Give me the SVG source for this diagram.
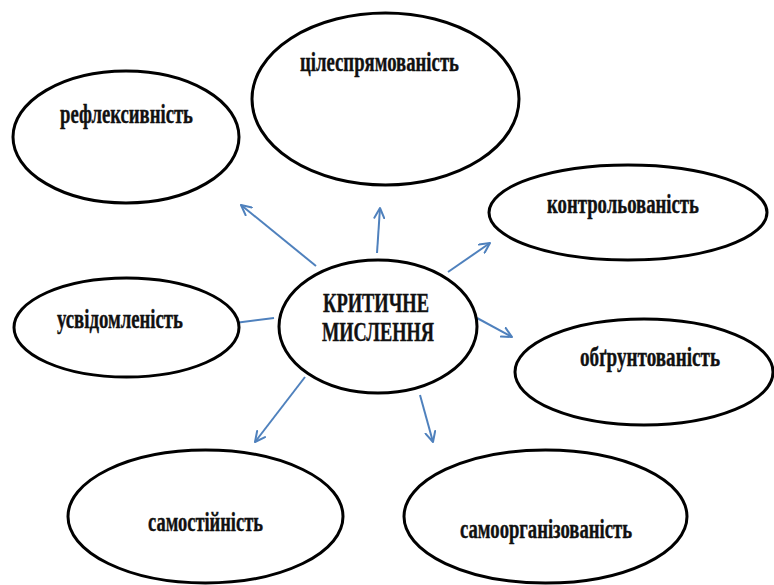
<svg xmlns="http://www.w3.org/2000/svg" width="774" height="585" viewBox="0 0 774 585">
  <defs>
    <style>
      .node ellipse { fill: #ffffff; stroke: #000000; stroke-width: 3; }
      .node text { font-family: "Liberation Serif", "DejaVu Serif", "Times New Roman", serif; font-weight: bold; font-size: 27px; fill: #111111; stroke: #111111; stroke-width: 0.4; }
      .conn line { stroke: #4F81BD; stroke-width: 2; }
    </style>
    <marker id="arrow" viewBox="0 0 12 12" refX="11" refY="6" markerWidth="12" markerHeight="12" markerUnits="userSpaceOnUse" orient="auto">
      <path d="M1,1 L11,6 L1,11" fill="none" stroke="#4F81BD" stroke-width="2" stroke-linecap="round" stroke-linejoin="round"/>
    </marker>
  </defs>
  <rect x="0" y="0" width="774" height="585" fill="#ffffff"/>

  <g id="connectors" class="conn">
    <line x1="316" y1="266" x2="241" y2="205" marker-end="url(#arrow)"/>
    <line x1="377" y1="253" x2="380" y2="208" marker-end="url(#arrow)"/>
    <line x1="448" y1="272" x2="490" y2="243" marker-end="url(#arrow)"/>
    <line x1="274" y1="318" x2="227" y2="324" marker-end="url(#arrow)"/>
    <line x1="477" y1="318" x2="512" y2="337" marker-end="url(#arrow)"/>
    <line x1="305" y1="377" x2="255" y2="442" marker-end="url(#arrow)"/>
    <line x1="420" y1="395" x2="433" y2="442" marker-end="url(#arrow)"/>
  </g>

  <g id="node-refleksyvnist" class="node">
    <ellipse cx="126" cy="137" rx="113" ry="66"/>
    <text x="60" y="123" textLength="133" lengthAdjust="spacingAndGlyphs">рефлексивність</text>
  </g>
  <g id="node-tsilespryamovanist" class="node">
    <ellipse cx="385.5" cy="99" rx="133.5" ry="86"/>
    <text x="300" y="71" textLength="159" lengthAdjust="spacingAndGlyphs">цілеспрямованість</text>
  </g>
  <g id="node-kontrolovanist" class="node">
    <ellipse cx="628" cy="212.5" rx="139" ry="47.5"/>
    <text x="547" y="213" textLength="152" lengthAdjust="spacingAndGlyphs">контрольованість</text>
  </g>
  <g id="node-obgruntovanist" class="node">
    <ellipse cx="644" cy="372" rx="129" ry="53"/>
    <text x="580" y="366" textLength="140" lengthAdjust="spacingAndGlyphs">обґрунтованість</text>
  </g>
  <g id="node-usvidomlenist" class="node">
    <ellipse cx="126.5" cy="327.5" rx="112.5" ry="49.5"/>
    <text x="57" y="328" textLength="126" lengthAdjust="spacingAndGlyphs">усвідомленість</text>
  </g>
  <g id="node-samostiynist" class="node">
    <ellipse cx="205.5" cy="516.5" rx="137.5" ry="66.5"/>
    <text x="148" y="531" textLength="115" lengthAdjust="spacingAndGlyphs">самостійність</text>
  </g>
  <g id="node-samoorganizovanist" class="node">
    <ellipse cx="545.5" cy="516.5" rx="141.5" ry="66.5"/>
    <text x="460" y="538" textLength="172" lengthAdjust="spacingAndGlyphs">самоорганізованість</text>
  </g>
  <g id="node-center" class="node">
    <ellipse cx="378" cy="326.5" rx="99" ry="66.5"/>
    <text x="323" y="312" textLength="106" lengthAdjust="spacingAndGlyphs">КРИТИЧНЕ</text>
    <text x="322" y="341" textLength="112" lengthAdjust="spacingAndGlyphs">МИСЛЕННЯ</text>
  </g>
</svg>
